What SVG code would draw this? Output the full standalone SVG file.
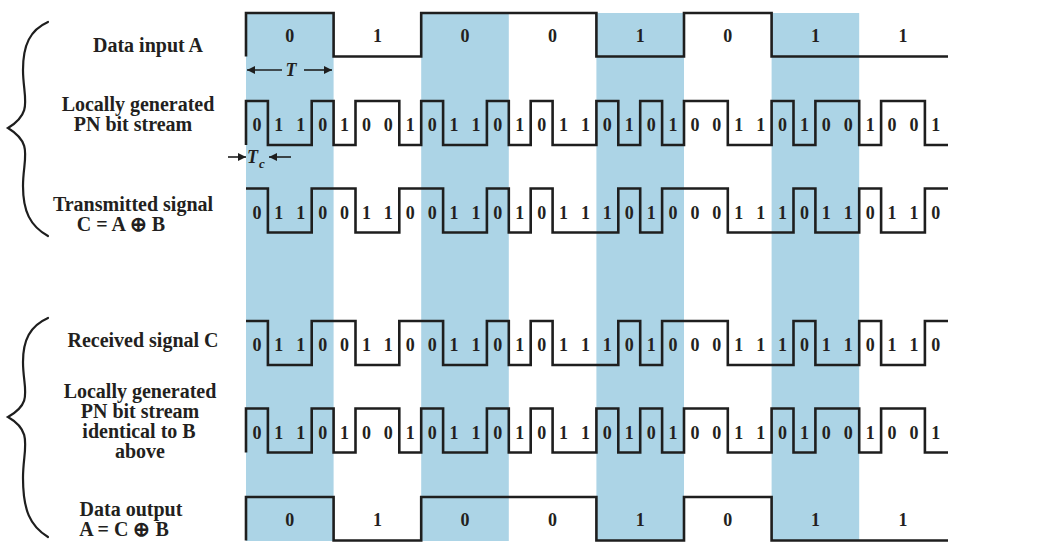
<svg xmlns="http://www.w3.org/2000/svg" width="1038" height="545" viewBox="0 0 1038 545">
<style>
.shade{fill:#acd4e6}
.wave{fill:none;stroke:#1e1e1e;stroke-width:2.6;stroke-linejoin:miter}
.brace{fill:none;stroke:#1e1e1e;stroke-width:2.2;stroke-linecap:round}
.lbl{font-family:"Liberation Serif","Times New Roman",serif;font-weight:bold;font-size:20px;fill:#231f20;text-anchor:middle}
.d{font-family:"Liberation Serif","Times New Roman",serif;font-weight:bold;font-size:18px;fill:#231f20;text-anchor:middle}
.it{font-family:"Liberation Serif","Times New Roman",serif;font-weight:bold;font-style:italic;fill:#231f20}
.arr{stroke:#1e1e1e;stroke-width:1.6;fill:none}
</style>
<defs>
<marker id="ah" viewBox="0 0 8 8" refX="8" refY="4" markerWidth="8" markerHeight="8" markerUnits="userSpaceOnUse" orient="auto">
<path d="M0,0 L8,4 L0,8 z" fill="#1e1e1e"/>
</marker>
<path id="wA" d="M0,43.5 V0 H87.6 V43.5 H175.2 V0 H350.4 V43.5 H438 V0 H525.6 V43.5 H702"/>
<path id="wB" d="M0,44 V0 H21.9 V44 H65.7 V0 H87.6 V44 H109.5 V0 H153.3 V44 H175.2 V0 H197.1 V44 H240.9 V0 H262.8 V44 H284.7 V0 H306.6 V44 H350.4 V0 H372.3 V44 H394.2 V0 H416.1 V44 H438 V0 H481.8 V44 H525.6 V0 H547.5 V44 H569.4 V0 H613.2 V44 H635.1 V0 H678.9 V44 H702"/>
<path id="wC" d="M0,0 H21.9 V44 H65.7 V0 H109.5 V44 H153.3 V0 H197.1 V44 H240.9 V0 H262.8 V44 H284.7 V0 H306.6 V44 H372.3 V0 H394.2 V44 H416.1 V0 H481.8 V44 H547.5 V0 H569.4 V44 H613.2 V0 H635.1 V44 H678.9 V0 H702"/>
</defs>
<rect width="1038" height="545" fill="#ffffff"/>
<g id="shading">
<rect class="shade" x="246" y="13" width="87.6" height="528"/>
<rect class="shade" x="421.2" y="13" width="87.6" height="528"/>
<rect class="shade" x="596.4" y="13" width="87.6" height="528"/>
<rect class="shade" x="771.6" y="13" width="87.6" height="528"/>
</g>
<g id="braces">
<path class="brace" d="M48,22 C30,30 23,45 23,70 C23,98 34,112 8,128 C34,144 23,158 23,186 C23,211 30,226 48,236"/>
<path class="brace" d="M48,318 C30,326 23,340 23,362 C23,390 34,402 8,417 C34,432 23,448 23,478 C23,510 30,526 48,537"/>
</g>
<g id="labels">
<text class="lbl" x="148" y="52">Data input A</text>
<text class="lbl" x="138" y="111">Locally generated</text>
<text class="lbl" x="133" y="131">PN bit stream</text>
<text class="lbl" x="133" y="211">Transmitted signal</text>
<text class="lbl" x="121" y="231">C = A ⊕ B</text>
<text class="lbl" x="143" y="347">Received signal C</text>
<text class="lbl" x="140" y="398">Locally generated</text>
<text class="lbl" x="140" y="418">PN bit stream</text>
<text class="lbl" x="139" y="438">identical to B</text>
<text class="lbl" x="140" y="458">above</text>
<text class="lbl" x="131" y="516">Data output</text>
<text class="lbl" x="124" y="536">A = C ⊕ B</text>
</g>
<g id="row-data-input-A">
<use href="#wA" class="wave" transform="translate(246,13)"/>
<text class="d" y="41.5" x="289.8 377.4 465 552.6 640.2 727.8 815.4 903">01001011</text>
</g>
<g id="period-T">
<line class="arr" x1="282" y1="70" x2="247" y2="70" marker-end="url(#ah)"/>
<line class="arr" x1="304" y1="70" x2="332" y2="70" marker-end="url(#ah)"/>
<text class="it" x="291" y="76" font-size="18" text-anchor="middle">T</text>
</g>
<g id="row-pn-B">
<use href="#wB" class="wave" transform="translate(246,101)"/>
<text class="d" y="131" x="256.95 278.85 300.75 322.65 344.55 366.45 388.35 410.25 432.15 454.05 475.95 497.85 519.75 541.65 563.55 585.45 607.35 629.25 651.15 673.05 694.95 716.85 738.75 760.65 782.55 804.45 826.35 848.25 870.15 892.05 913.95 935.85">01101001011010110101001101001001</text>
</g>
<g id="chip-Tc">
<line class="arr" x1="228" y1="157" x2="246" y2="157" marker-end="url(#ah)"/>
<line class="arr" x1="291" y1="157" x2="269" y2="157" marker-end="url(#ah)"/>
<text class="it" x="247" y="163" font-size="18">T</text>
<text class="it" x="259" y="168" font-size="13">c</text>
</g>
<g id="row-transmitted-C">
<use href="#wC" class="wave" transform="translate(246,188.5)"/>
<text class="d" y="218.5" x="256.95 278.85 300.75 322.65 344.55 366.45 388.35 410.25 432.15 454.05 475.95 497.85 519.75 541.65 563.55 585.45 607.35 629.25 651.15 673.05 694.95 716.85 738.75 760.65 782.55 804.45 826.35 848.25 870.15 892.05 913.95 935.85">01100110011010111010001110110110</text>
</g>
<g id="row-received-C">
<use href="#wC" class="wave" transform="translate(246,321)"/>
<text class="d" y="351" x="256.95 278.85 300.75 322.65 344.55 366.45 388.35 410.25 432.15 454.05 475.95 497.85 519.75 541.65 563.55 585.45 607.35 629.25 651.15 673.05 694.95 716.85 738.75 760.65 782.55 804.45 826.35 848.25 870.15 892.05 913.95 935.85">01100110011010111010001110110110</text>
</g>
<g id="row-pn-B-local">
<use href="#wB" class="wave" transform="translate(246,408.5)"/>
<text class="d" y="438.5" x="256.95 278.85 300.75 322.65 344.55 366.45 388.35 410.25 432.15 454.05 475.95 497.85 519.75 541.65 563.55 585.45 607.35 629.25 651.15 673.05 694.95 716.85 738.75 760.65 782.55 804.45 826.35 848.25 870.15 892.05 913.95 935.85">01101001011010110101001101001001</text>
</g>
<g id="row-data-output-A">
<use href="#wA" class="wave" transform="translate(246,497)"/>
<text class="d" y="525.5" x="289.8 377.4 465 552.6 640.2 727.8 815.4 903">01001011</text>
</g>
</svg>
